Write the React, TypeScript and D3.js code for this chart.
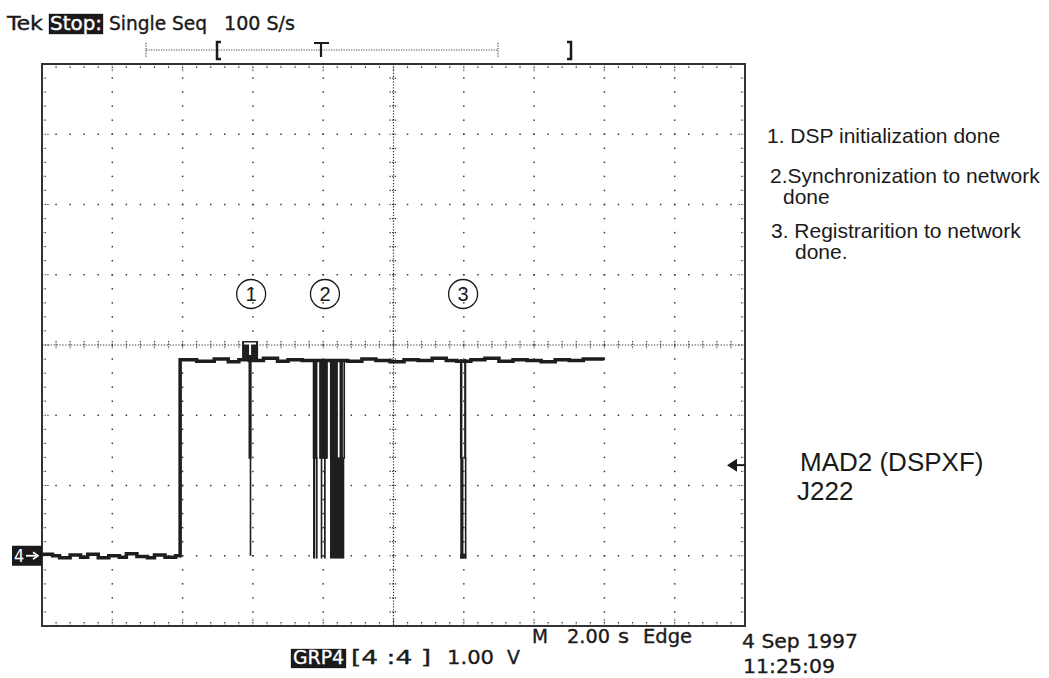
import React from "react";
import * as d3 from "d3";

// ---- data ----
const traceT = [0, 0.3, 0.5, 0.8, 1.1, 1.3, 1.6, 1.9, 2.2, 2.4, 2.7, 3.0, 3.2, 3.5, 3.8, 3.93,
  3.93, 4.4, 4.9, 5.3, 5.6, 5.9, 6.3, 6.7, 7.0, 7.4, 8.7, 9.1, 9.5, 9.9, 10.3, 10.7, 11.1, 11.5,
  11.8, 12.2, 12.6, 13.0, 13.4, 13.8, 14.2, 14.6, 15.0, 15.4, 15.96];
const traceV = [0.02, 0.0, -0.03, 0.01, -0.02, 0.02, -0.03, 0.0, -0.02, 0.03, -0.01, -0.03, 0.01, -0.02, 0.0, 0.02,
  2.79, 2.77, 2.8, 2.76, 2.79, 2.78, 2.81, 2.77, 2.79, 2.78, 2.77, 2.8, 2.78, 2.76, 2.79, 2.78, 2.81, 2.78,
  2.77, 2.79, 2.81, 2.77, 2.79, 2.78, 2.76, 2.79, 2.78, 2.8, 2.78];

const glitchT0 = [5.875, 5.909, 7.702, 7.885, 8.19, 8.465, 8.575, 7.71, 7.796, 7.929, 8.023, 8.194, 11.89, 12.01, 11.9, 12.03, 11.9];
const glitchT1 = [5.96, 5.946, 7.836, 8.132, 8.417, 8.56, 8.622, 7.776, 7.824, 7.975, 8.071, 8.6, 11.96, 12.07, 11.99, 12.07, 12.07];
const glitchTop = [2.8, 2.8, 2.8, 2.8, 2.8, 2.8, 2.8, 1.4, 1.4, 1.4, 1.4, 1.4, 2.8, 2.8, 1.4, 1.4, 0.03];
const glitchBottom = [1.38, 0.0, 1.38, 1.38, 1.38, 1.38, 1.38, -0.04, -0.04, -0.04, -0.04, -0.04, 1.38, 1.38, -0.04, -0.04, -0.04];

const markerLabels = ["1", "2", "3"];
const markerTimes = [5.95, 8.05, 11.98];

const noteLines = [
  "1. DSP initialization done",
  "2.Synchronization to network",
  "done",
  "3. Registrarition to network",
  "done.",
];

const triggerTime = 5.92;
const triggerLevel = 1.29;

const timeDomain = [0, 20];
const voltDomain = [-1, 7];

const SCOPE_FONT = "'DejaVu Sans Condensed', 'DejaVu Sans', sans-serif";
const ARIAL = "'Liberation Sans', Arial, sans-serif";

export default function App() {
  const x = d3.scaleLinear().domain(timeDomain).range([42, 745]);
  const y = d3.scaleLinear().domain(voltDomain).range([626, 64]);
  const X0 = x(0), X1 = x(20), Y0 = y(7), Y1 = y(-1);
  const xc = x(10), yc = y(3);

  const majorT = d3.range(0, 20.001, 2);
  const minorT = d3.range(0, 20.001, 0.4);
  const majorV = d3.range(-1, 7.001, 1);
  const minorV = d3.range(-1, 7.001, 0.2);

  const line = d3.line<number>()
    .x((_, i) => x(traceT[i]))
    .y((v) => y(v))
    .curve(d3.curveStepAfter);
  const tracePath = line(traceV) || "";

  const dotColor = "#3a3a3a";
  const els: React.ReactNode[] = [];

  majorT.forEach((t, i) => {
    if (t === 0 || t === 20 || t === 10) return;
    minorV.forEach((v, j) => {
      els.push(<rect key={`gv${i}-${j}`} x={x(t) - 0.75} y={y(v) - 0.75} width={1.5} height={1.5} fill={dotColor} />);
    });
  });
  majorV.forEach((v, i) => {
    if (v === -1 || v === 7 || v === 3) return;
    minorT.forEach((t, j) => {
      els.push(<rect key={`gh${i}-${j}`} x={x(t) - 0.75} y={y(v) - 0.75} width={1.5} height={1.5} fill={dotColor} />);
    });
  });

  els.push(<line key="cl-h" x1={X0} x2={X1} y1={yc} y2={yc} stroke={dotColor} strokeWidth={1.2} strokeDasharray="1.3 1.6" />);
  els.push(<line key="cl-v" x1={xc} x2={xc} y1={Y0} y2={Y1} stroke={dotColor} strokeWidth={1.2} strokeDasharray="1.3 1.6" />);
  minorT.forEach((t, j) => {
    els.push(<line key={`ct${j}`} x1={x(t)} x2={x(t)} y1={yc - 4} y2={yc + 4} stroke={dotColor} strokeWidth={1.2} strokeDasharray="1.3 1.3" />);
  });
  minorV.forEach((v, j) => {
    els.push(<line key={`cv${j}`} x1={xc - 4} x2={xc + 4} y1={y(v)} y2={y(v)} stroke={dotColor} strokeWidth={1.2} strokeDasharray="1.3 1.3" />);
  });

  minorT.forEach((t, j) => {
    const major = Math.abs(t / 2 - Math.round(t / 2)) < 1e-6;
    const len = major ? 8 : 4;
    els.push(<line key={`et${j}`} x1={x(t)} x2={x(t)} y1={Y0} y2={Y0 + len} stroke={dotColor} strokeWidth={1.2} strokeDasharray="1.3 1.3" />);
    els.push(<line key={`eb${j}`} x1={x(t)} x2={x(t)} y1={Y1} y2={Y1 - len} stroke={dotColor} strokeWidth={1.2} strokeDasharray="1.3 1.3" />);
  });
  minorV.forEach((v, j) => {
    const major = Math.abs(v - Math.round(v)) < 1e-6;
    const len = major ? 8 : 4;
    els.push(<line key={`el${j}`} x1={X0} x2={X0 + len} y1={y(v)} y2={y(v)} stroke={dotColor} strokeWidth={1.2} strokeDasharray="1.3 1.3" />);
    els.push(<line key={`er${j}`} x1={X1} x2={X1 - len} y1={y(v)} y2={y(v)} stroke={dotColor} strokeWidth={1.2} strokeDasharray="1.3 1.3" />);
  });

  const glitches = glitchT0.map((t0, i) => {
    const xa = x(t0), xb = x(glitchT1[i]);
    const w = Math.max(1.6, xb - xa);
    return <rect key={`g${i}`} x={xa} y={y(glitchTop[i])} width={w} height={y(glitchBottom[i]) - y(glitchTop[i])} fill="#1e1e1e" />;
  });

  const trigX = x(triggerTime);
  const highY = y(2.8);
  const trigLevelY = y(triggerLevel);

  const rulerY = 50;
  const rL = 146, rR = 498;
  const ink = "#1a1a1a";

  return (
    <svg width={1049} height={678} style={{ display: "block", position: "absolute", left: 0, top: 0, background: "#fff" }}>
      <rect x={0} y={0} width={1049} height={678} fill="#fff" />
      <g fontFamily={SCOPE_FONT} fontSize={20} fill={ink} stroke={ink} strokeWidth={0.35}>
        <text x={7} y={30} textLength={36} lengthAdjust="spacingAndGlyphs">Tek</text>
        <rect x={49} y={14} width={54} height={20} fill={ink} />
        <text x={50} y={30} textLength={52} lengthAdjust="spacingAndGlyphs" fill="#fff" stroke="#fff">Stop:</text>
        <text x={109} y={30} textLength={98} lengthAdjust="spacingAndGlyphs">Single Seq</text>
        <text x={224} y={30} textLength={71} lengthAdjust="spacingAndGlyphs">100 S/s</text>
      </g>
      <line x1={rL} x2={rR} y1={rulerY} y2={rulerY} stroke="#555" strokeWidth={1.2} strokeDasharray="1.3 1.2" />
      <line x1={rL} x2={rL} y1={43} y2={58} stroke="#555" strokeWidth={1.2} strokeDasharray="1.3 1.2" />
      <line x1={rR} x2={rR} y1={43} y2={58} stroke="#555" strokeWidth={1.2} strokeDasharray="1.3 1.2" />
      <path d="M221,42 H217 V59 H221" fill="none" stroke={ink} strokeWidth={2.5} />
      <path d="M567,42 H571 V59 H567" fill="none" stroke={ink} strokeWidth={2.5} />
      <path d="M314,43 H329 M321,43 V57" fill="none" stroke={ink} strokeWidth={2.2} />

      {els}
      <rect x={X0} y={Y0} width={X1 - X0} height={Y1 - Y0} fill="none" stroke="#333" strokeWidth={2} />

      <path d={tracePath} fill="none" stroke="#1e1e1e" strokeWidth={3.5} strokeLinejoin="miter" />
      <line x1={x(3.93)} x2={x(3.93)} y1={y(0)} y2={y(2.8)} stroke="#1e1e1e" strokeWidth={2} />
      {glitches}

      <rect x={trigX - 8} y={highY - 18} width={16} height={18} fill="#1e1e1e" />
      <path d={`M${trigX - 6},${highY - 15.5} H${trigX + 6} M${trigX},${highY - 15.5} V${highY - 4}`} stroke="#fff" strokeWidth={2} fill="none" />

      <path d={`M${X1 - 18},${trigLevelY} L${X1 - 8},${trigLevelY - 6.5} L${X1 - 8},${trigLevelY + 6.5} Z`} fill={ink} />
      <line x1={X1 - 9} x2={X1} y1={trigLevelY} y2={trigLevelY} stroke={ink} strokeWidth={2} />

      <rect x={12} y={y(0) - 10} width={30} height={20} fill={ink} />
      <text x={14} y={y(0) + 6.5} fontFamily={SCOPE_FONT} fontSize={18} fill="#fff">4</text>
      <line x1={26} x2={36} y1={y(0)} y2={y(0)} stroke="#fff" strokeWidth={1.8} />
      <path d={`M33,${y(0) - 3.5} L38,${y(0)} L33,${y(0) + 3.5}`} fill="none" stroke="#fff" strokeWidth={1.6} />

      {markerLabels.map((lab, i) => (
        <g key={`m${i}`}>
          <circle cx={x(markerTimes[i])} cy={294} r={14.5} fill="none" stroke={ink} strokeWidth={1.3} />
          <text x={x(markerTimes[i])} y={301} textAnchor="middle" fontFamily={ARIAL} fontSize={20} fill={ink}>{lab}</text>
        </g>
      ))}

      <g fontFamily={ARIAL} fontSize={21} fill={ink}>
        <text x={767} y={143}>{noteLines[0]}</text>
        <text x={770} y={183}>{noteLines[1]}</text>
        <text x={783} y={204}>{noteLines[2]}</text>
        <text x={771} y={238}>{noteLines[3]}</text>
        <text x={795} y={259}>{noteLines[4]}</text>
      </g>
      <g fontFamily={ARIAL} fontSize={26} fill={ink}>
        <text x={800} y={471}>MAD2 (DSPXF)</text>
        <text x={797} y={500}>J222</text>
      </g>

      <g fontFamily={SCOPE_FONT} fontSize={19} fill={ink} stroke={ink} strokeWidth={0.3}>
        <text x={532} y={643} textLength={16} lengthAdjust="spacingAndGlyphs">M</text>
        <text x={567} y={643} textLength={43} lengthAdjust="spacingAndGlyphs">2.00</text>
        <text x={618} y={643} textLength={11} lengthAdjust="spacingAndGlyphs">s</text>
        <text x={643} y={643} textLength={49} lengthAdjust="spacingAndGlyphs">Edge</text>
        <rect x={291} y={649} width={55} height={19} fill={ink} />
        <text x={293} y={664} textLength={51} lengthAdjust="spacingAndGlyphs" fill="#fff" stroke="#fff">GRP4</text>
        <text x={351} y={664} textLength={80} lengthAdjust="spacingAndGlyphs">[4 :4 ]</text>
        <text x={447} y={664} textLength={47} lengthAdjust="spacingAndGlyphs">1.00</text>
        <text x={507} y={664} textLength={13} lengthAdjust="spacingAndGlyphs">V</text>
        <text x={742} y={648} fontSize={20} textLength={116} lengthAdjust="spacingAndGlyphs">4 Sep 1997</text>
        <text x={743} y={673} fontSize={19} textLength={92} lengthAdjust="spacingAndGlyphs">11:25:09</text>
      </g>
    </svg>
  );
}
